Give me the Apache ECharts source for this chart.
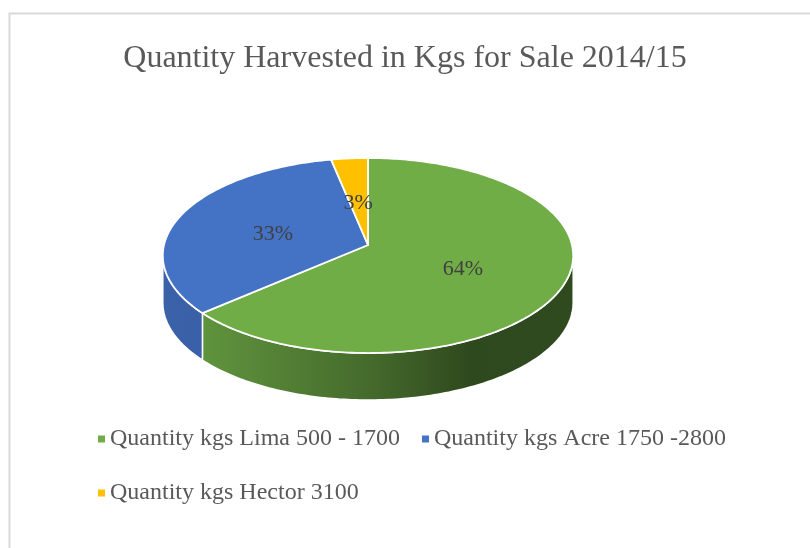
<!DOCTYPE html>
<html>
<head>
<meta charset="utf-8">
<script src="https://cdn.jsdelivr.net/npm/echarts@6/dist/echarts.min.js"></script>
<style>
html,body{margin:0;padding:0;background:#fff;}
#main{width:810px;height:548px;}
</style>
</head>
<body>
<div id="main"></div>
<script>
// data (shares in %)
var categories = ['Quantity kgs Lima 500 - 1700', 'Quantity kgs Acre 1750 -2800', 'Quantity kgs Hector 3100'];
var values = [63.6, 33.2, 3.2];
var colors = ['#70ad47', '#4472c4', '#ffc000'];

// tilted pie geometry
var CX = 368, CY = 245, RX = 204, RY = 96.4, PERSP = 0.1077, DEPTH = 47;
var FONT = '"Liberation Serif", "Times New Roman", serif';

function proj(deg, f) {
	var t = deg * Math.PI / 180;
	var s = Math.sin(t), c = Math.cos(t);
	var k = 1 / (1 - PERSP * f * s);
	return [CX + RX * f * c * k, CY + RY * f * s * k];
}

function arc(a0, a1, dy) {
	var pts = [];
	var n = Math.max(2, Math.ceil(Math.abs(a1 - a0)));
	for (var i = 0; i <= n; i++) {
		var p = proj(a0 + (a1 - a0) * i / n, 1);
		pts.push([p[0], p[1] + dy]);
	}
	return pts;
}

function shade(hex, f) {
	var r = parseInt(hex.substr(1, 2), 16), g = parseInt(hex.substr(3, 2), 16), b = parseInt(hex.substr(5, 2), 16);
	return 'rgb(' + Math.round(r * f) + ',' + Math.round(g * f) + ',' + Math.round(b * f) + ')';
}

var total = 0;
for (var q = 0; q < values.length; q++) total += values[q];

// front wall visible between the two silhouette points
var S0 = Math.asin(PERSP) * 180 / Math.PI, S1 = 180 - S0;

function renderSlice(params, api) {
	var i = params.seriesIndex;
	var before = 0;
	for (var j = 0; j < i; j++) before += values[j];
	var a0 = -90 + before / total * 360;
	var a1 = a0 + values[i] / total * 360;
	var col = colors[i];
	var children = [];

	var shifts = [-360, 0, 360];
	for (var m = 0; m < shifts.length; m++) {
		var lo = Math.max(a0 + shifts[m], S0), hi = Math.min(a1 + shifts[m], S1);
		if (hi > lo) {
			var pts = arc(lo, hi, 0).concat(arc(hi, lo, DEPTH));
			children.push({
				type: 'polygon',
				z2: 1,
				shape: { points: pts },
				style: {
					fill: new echarts.graphic.LinearGradient(CX - RX, 0, CX + RX, 0, [
						{ offset: 0, color: shade(col, 0.86) },
						{ offset: 0.12, color: shade(col, 0.84) },
						{ offset: 0.5, color: shade(col, 0.62) },
						{ offset: 0.75, color: shade(col, 0.42) },
						{ offset: 1, color: shade(col, 0.43) }
					], true),
					stroke: '#fff',
					lineWidth: 1.5
				}
			});
		}
	}

	var topPts = [[CX, CY]].concat(arc(a0, a1, 0));
	children.push({
		type: 'polygon',
		z2: 10,
		shape: { points: topPts },
		style: { fill: col, stroke: '#fff', lineWidth: 1.8, lineJoin: 'round' }
	});

	var mid = (a0 + a1) / 2;
	var lp = proj(mid, 0.5);
	children.push({
		type: 'text',
		z2: 100,
		style: {
			x: lp[0], y: lp[1] + 4,
			text: Math.round(values[i] / total * 100) + '%',
			align: 'center', verticalAlign: 'middle',
			font: '22px ' + FONT,
			fill: '#404040'
		}
	});
	return { type: 'group', children: children };
}

var seas = [];
for (var k = 0; k < categories.length; k++) {
	seas.push({
		name: categories[k],
		type: 'custom',
		coordinateSystem: 'none',
		itemStyle: { color: colors[k] },
		renderItem: renderSlice,
		data: [values[k]]
	});
}

var myChart = echarts.init(document.getElementById('main'));
var option = {
	animation: false,
	color: colors,
	title: {
		text: 'Quantity Harvested in Kgs for Sale 2014/15',
		left: 'center',
		top: 38,
		textStyle: { fontFamily: FONT, fontSize: 32, fontWeight: 'normal', color: '#595959' }
	},
	legend: {
		data: categories,
		left: 93,
		top: 418,
		width: 640,
		icon: 'rect',
		itemWidth: 7,
		itemHeight: 7,
		itemGap: 22,
		textStyle: { fontFamily: FONT, fontSize: 24, lineHeight: 32, color: '#595959' }
	},
	graphic: [{
		type: 'rect',
		shape: { x: 9.5, y: 13.5, width: 840, height: 580 },
		style: { fill: 'none', stroke: '#d9d9d9', lineWidth: 2 },
		silent: true
	}],
	series: seas
};
myChart.setOption(option, true);
</script>
</body>
</html>
